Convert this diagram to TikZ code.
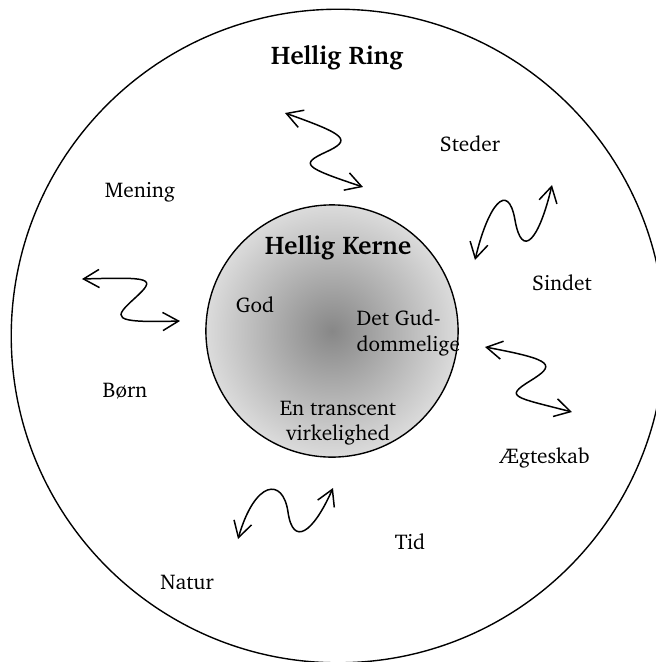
\documentclass[tikz,border=0pt]{standalone}
\usepackage[T1]{fontenc}
\usepackage{charter}
\usepackage{tikz}
\usetikzlibrary{arrows.meta}

\begin{document}
\begin{tikzpicture}[
        x=0.0165cm, y=-0.0165cm,
        ring/.style={circle, draw, line width=0.65pt, inner sep=0pt},
        lbl/.style={font=\normalsize, inner sep=1pt},
        heading/.style={font=\large\bfseries, inner sep=1pt},
        arr/.style={{Straight Barb[length=2.6mm,width=3mm]}-{Straight Barb[length=2.6mm,width=3mm]}, line width=0.7pt},
    ]
        \useasboundingbox (0,0) rectangle (656,662);
        \node[ring, minimum size=10.78cm] (ring) at (338,336) {};
        \node[ring, minimum size=4.16cm, shading=radial, inner color=black!47, outer color=black!14] (kerne) at (332,331) {};

        \node[heading] (ringtitle)  at (337,58)  {Hellig Ring};
        \node[heading] (kernetitle) at (338,248) {Hellig Kerne};

        \node[lbl] (steder)  at (470,144) {Steder};
        \node[lbl] (mening)  at (140,192) {Mening};
        \node[lbl] (sindet)  at (562,283) {Sindet};
        \node[lbl] (boern)   at (125,391) {B\o rn};
        \node[lbl] (aegte)   at (545,458) {\AE gteskab};
        \node[lbl] (tid)     at (410,542) {Tid};
        \node[lbl] (natur)   at (187,582) {Natur};

        \node[lbl] (god)     at (255,305) {God};
        \node[lbl, align=left, anchor=west] (gud) at (354,333) {Det Gud-\\dommelige};
        \node[lbl, align=center] (transc) at (338,423) {En transcent\\virkelighed};

        % ends of the wavy arrows
        \coordinate (a1) at (285,113); \coordinate (m1) at (326,152); \coordinate (b1) at (363,187);
        \coordinate (a2) at (475,260); \coordinate (m2) at (515,220); \coordinate (b2) at (552,185);
        \coordinate (a3) at (82,279);  \coordinate (m3) at (135,298); \coordinate (b3) at (180,321);
        \coordinate (a4) at (485,347); \coordinate (m4) at (530,381); \coordinate (b4) at (572,412);
        \coordinate (a5) at (238,539); \coordinate (m5) at (288,512); \coordinate (b5) at (333,488);

        \draw[arr] (a1) .. controls +(62,22) and +(26,-12) .. (m1) .. controls +(-26,12) and +(-60,-20) .. (b1);
        \draw[arr] (a2) .. controls +(13,-55) and +(-7,-40) .. (m2) .. controls +(7,40) and +(-13,55) .. (b2);
        \draw[arr] (a3) .. controls +(70,-2) and +(22,-20) .. (m3) .. controls +(-22,20) and +(-70,2) .. (b3);
        \draw[arr] (a4) .. controls +(70,13) and +(26,-16) .. (m4) .. controls +(-26,16) and +(-58,-15) .. (b4);
        \draw[arr] (a5) .. controls +(17,-59) and +(-5,-35) .. (m5) .. controls +(5,35) and +(-20,45) .. (b5);
    \end{tikzpicture}
\end{document}
